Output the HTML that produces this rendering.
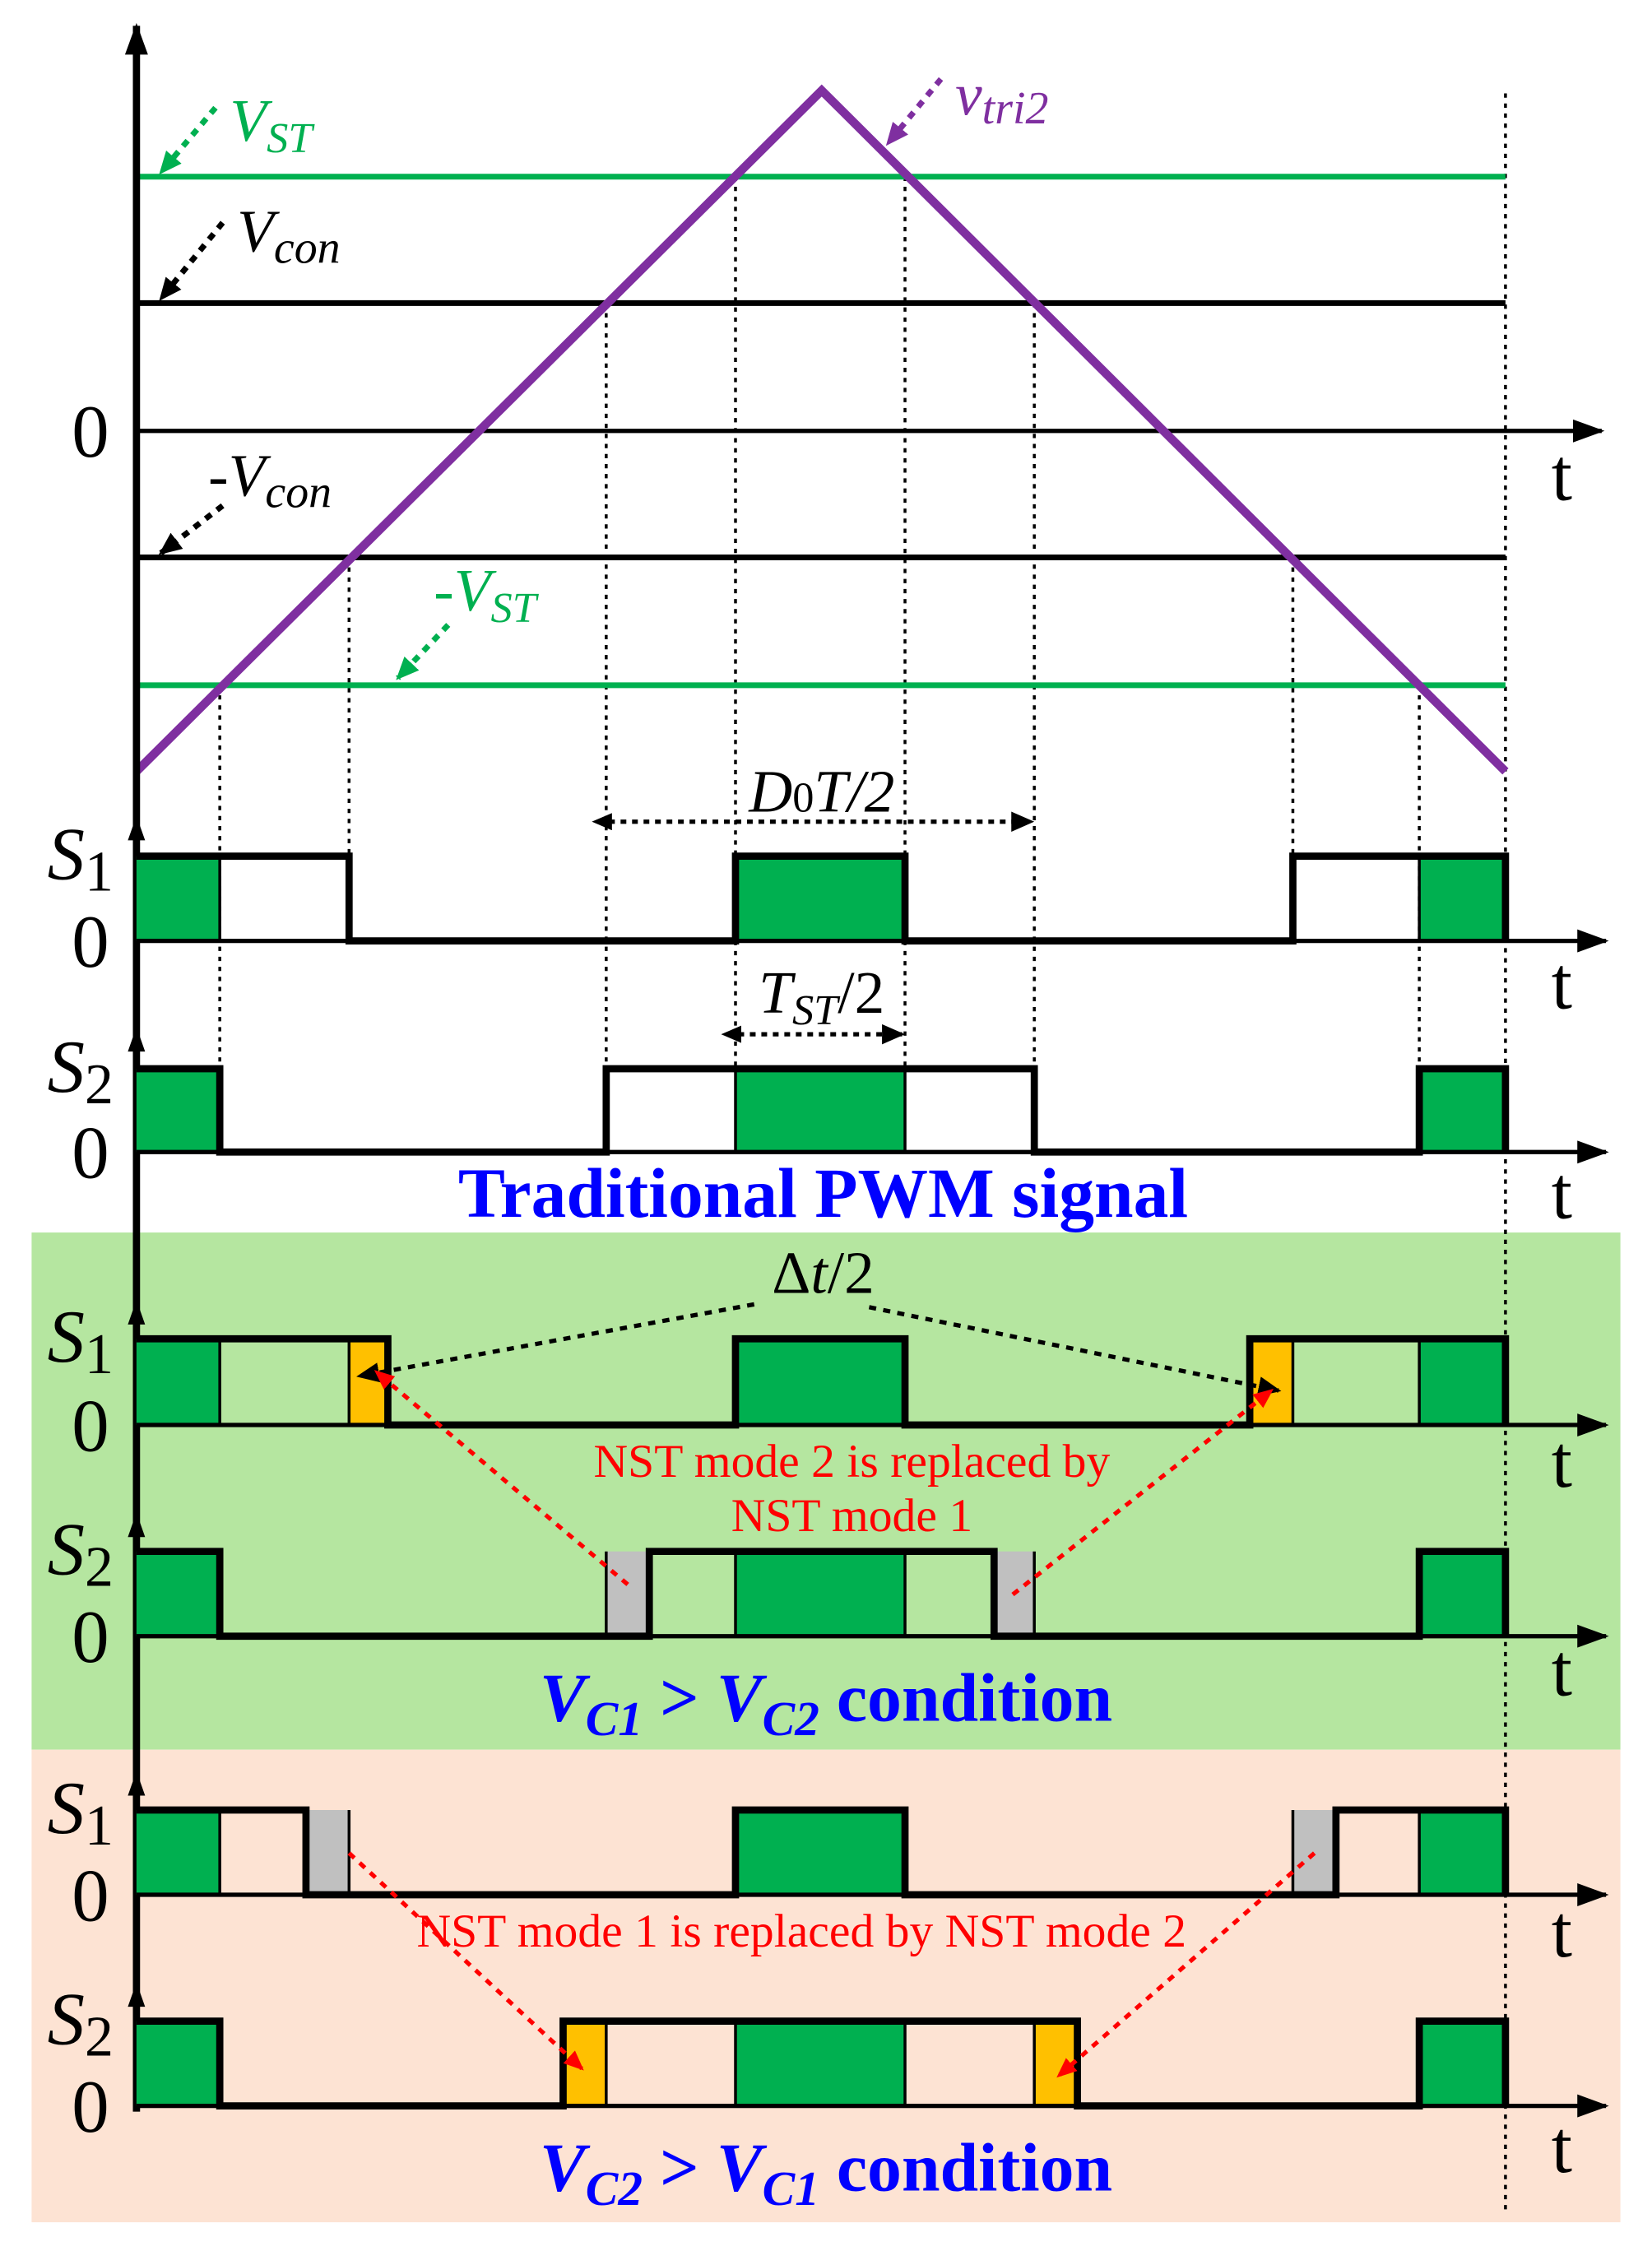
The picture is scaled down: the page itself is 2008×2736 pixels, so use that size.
<!DOCTYPE html>
<html><head><meta charset="utf-8"><style>
html,body{margin:0;padding:0;background:#fff;}
svg{display:block;}
text{font-family:"Liberation Serif",serif;}
</style></head><body>
<svg width="2008" height="2736" viewBox="0 0 1150 1567" preserveAspectRatio="none" xmlns="http://www.w3.org/2000/svg">
<defs>
<marker id="big" markerWidth="22" markerHeight="16" refX="20" refY="8" orient="auto" markerUnits="userSpaceOnUse"><path d="M0,0 L22,8 L0,16 Z" fill="#000"/></marker>
<marker id="ak" markerWidth="16" markerHeight="14" refX="14" refY="7" orient="auto" markerUnits="userSpaceOnUse"><path d="M0,0 L16,7 L0,14 Z" fill="#000"/></marker>
<marker id="ag" markerWidth="16" markerHeight="14" refX="14" refY="7" orient="auto" markerUnits="userSpaceOnUse"><path d="M0,0 L16,7 L0,14 Z" fill="#00b050"/></marker>
<marker id="ap" markerWidth="16" markerHeight="14" refX="14" refY="7" orient="auto" markerUnits="userSpaceOnUse"><path d="M0,0 L16,7 L0,14 Z" fill="#7f2fa0"/></marker>
<marker id="ar" markerWidth="14" markerHeight="12" refX="12" refY="6" orient="auto" markerUnits="userSpaceOnUse"><path d="M0,0 L14,6 L0,12 Z" fill="#ff0000"/></marker>
<marker id="ar0" markerWidth="14" markerHeight="12" refX="2" refY="6" orient="auto-start-reverse" markerUnits="userSpaceOnUse"><path d="M0,0 L14,6 L0,12 Z" fill="#000"/></marker>
</defs>
<rect x="22" y="858" width="1106" height="360" fill="#b5e6a0"/>
<rect x="22" y="1218" width="1106" height="329" fill="#fde3d3"/>

<g stroke="#000" stroke-width="2" stroke-dasharray="3,4">
<line x1="153" y1="477" x2="153" y2="802"/>
<line x1="243" y1="388" x2="243" y2="655"/>
<line x1="422" y1="211" x2="422" y2="802"/>
<line x1="512" y1="123" x2="512" y2="744"/>
<line x1="630" y1="123" x2="630" y2="744"/>
<line x1="720" y1="211" x2="720" y2="802"/>
<line x1="900" y1="388" x2="900" y2="655"/>
<line x1="988" y1="477" x2="988" y2="802"/>
<line x1="1048" y1="65" x2="1048" y2="1540"/>
</g>

<line x1="95" y1="123" x2="1048" y2="123" stroke="#00b050" stroke-width="4"/>
<line x1="95" y1="477" x2="1048" y2="477" stroke="#00b050" stroke-width="4"/>
<line x1="95" y1="211" x2="1048" y2="211" stroke="#000" stroke-width="4"/>
<line x1="95" y1="388" x2="1048" y2="388" stroke="#000" stroke-width="4"/>
<line x1="95" y1="300" x2="1115" y2="300" stroke="#000" stroke-width="3" marker-end="url(#big)"/>
<polyline points="95,537 572,63 1048,537" fill="none" stroke="#7f2fa0" stroke-width="6"/>
<line x1="95" y1="1470" x2="95" y2="18" stroke="#000" stroke-width="5" marker-end="url(#big)"/>

<text x="50" y="318" font-size="52">0</text>
<text x="1080" y="348" font-size="52">t</text>
<line x1="150" y1="75" x2="112" y2="120" stroke="#00b050" stroke-width="4" stroke-dasharray="5,5" marker-end="url(#ag)"/>
<text x="160" y="98" font-size="42" font-style="italic" fill="#00b050">V<tspan font-size="30" dy="8">ST</tspan></text>
<line x1="155" y1="155" x2="112" y2="208" stroke="#000" stroke-width="4" stroke-dasharray="5,5" marker-end="url(#ak)"/>
<text x="165" y="175" font-size="42" font-style="italic">V<tspan font-size="32" dy="8">con</tspan></text>
<line x1="155" y1="352" x2="112" y2="385" stroke="#000" stroke-width="4" stroke-dasharray="5,5" marker-end="url(#ak)"/>
<text x="145" y="345" font-size="42" font-style="italic">-V<tspan font-size="32" dy="8">con</tspan></text>
<line x1="312" y1="435" x2="277" y2="472" stroke="#00b050" stroke-width="4" stroke-dasharray="5,5" marker-end="url(#ag)"/>
<text x="302" y="425" font-size="42" font-style="italic" fill="#00b050">-V<tspan font-size="30" dy="8">ST</tspan></text>
<line x1="655" y1="55" x2="618" y2="100" stroke="#7f2fa0" stroke-width="4" stroke-dasharray="5,5" marker-end="url(#ap)"/>
<text x="665" y="80" font-size="42" font-style="italic" fill="#7f2fa0">v<tspan font-size="32" dy="6">tri2</tspan></text>

<g stroke="#000" stroke-width="5" fill="none">
<rect x="95" y="596" width="58" height="59" fill="#00b050" stroke="none"/>
<rect x="512" y="596" width="118" height="59" fill="#00b050" stroke="none"/>
<rect x="988" y="596" width="60" height="59" fill="#00b050" stroke="none"/>
<polyline points="95,596 243,596 243,655 512,655 512,596 630,596 630,655 900,655 900,596 1048,596 1048,655"/>
<line x1="153" y1="596" x2="153" y2="655" stroke-width="2"/><line x1="988" y1="596" x2="988" y2="655" stroke-width="2"/>
<rect x="95" y="744" width="58" height="58" fill="#00b050" stroke="none"/>
<rect x="512" y="744" width="118" height="58" fill="#00b050" stroke="none"/>
<rect x="988" y="744" width="60" height="58" fill="#00b050" stroke="none"/>
<polyline points="95,744 153,744 153,802 422,802 422,744 720,744 720,802 988,802 988,744 1048,744 1048,802"/>
<line x1="512" y1="744" x2="512" y2="802" stroke-width="2"/><line x1="630" y1="744" x2="630" y2="802" stroke-width="2"/>

<rect x="95" y="932" width="58" height="60" fill="#00b050" stroke="none"/>
<rect x="512" y="932" width="118" height="60" fill="#00b050" stroke="none"/>
<rect x="988" y="932" width="60" height="60" fill="#00b050" stroke="none"/>
<rect x="243" y="932" width="27" height="60" fill="#ffc000" stroke="none"/>
<rect x="870" y="932" width="30" height="60" fill="#ffc000" stroke="none"/>
<polyline points="95,932 270,932 270,992 512,992 512,932 630,932 630,992 870,992 870,932 1048,932 1048,992"/>
<line x1="153" y1="932" x2="153" y2="992" stroke-width="2"/><line x1="243" y1="932" x2="243" y2="992" stroke-width="2"/><line x1="900" y1="932" x2="900" y2="992" stroke-width="2"/><line x1="988" y1="932" x2="988" y2="992" stroke-width="2"/>
<rect x="95" y="1080" width="58" height="59" fill="#00b050" stroke="none"/>
<rect x="512" y="1080" width="118" height="59" fill="#00b050" stroke="none"/>
<rect x="988" y="1080" width="60" height="59" fill="#00b050" stroke="none"/>
<rect x="422" y="1080" width="30" height="59" fill="#c0c0c0" stroke="none"/>
<rect x="692" y="1080" width="28" height="59" fill="#c0c0c0" stroke="none"/>
<polyline points="95,1080 153,1080 153,1139 452,1139 452,1080 692,1080 692,1139 988,1139 988,1080 1048,1080 1048,1139"/>
<line x1="512" y1="1080" x2="512" y2="1139" stroke-width="2"/><line x1="630" y1="1080" x2="630" y2="1139" stroke-width="2"/><line x1="422" y1="1080" x2="422" y2="1139" stroke-width="2"/><line x1="720" y1="1080" x2="720" y2="1139" stroke-width="2"/>

<rect x="95" y="1260" width="58" height="59" fill="#00b050" stroke="none"/>
<rect x="512" y="1260" width="118" height="59" fill="#00b050" stroke="none"/>
<rect x="988" y="1260" width="60" height="59" fill="#00b050" stroke="none"/>
<rect x="213" y="1260" width="30" height="59" fill="#c0c0c0" stroke="none"/>
<rect x="900" y="1260" width="30" height="59" fill="#c0c0c0" stroke="none"/>
<polyline points="95,1260 213,1260 213,1319 512,1319 512,1260 630,1260 630,1319 930,1319 930,1260 1048,1260 1048,1319"/>
<line x1="153" y1="1260" x2="153" y2="1319" stroke-width="2"/><line x1="243" y1="1260" x2="243" y2="1319" stroke-width="2"/><line x1="900" y1="1260" x2="900" y2="1319" stroke-width="2"/><line x1="988" y1="1260" x2="988" y2="1319" stroke-width="2"/>
<rect x="95" y="1407" width="58" height="59" fill="#00b050" stroke="none"/>
<rect x="512" y="1407" width="118" height="59" fill="#00b050" stroke="none"/>
<rect x="988" y="1407" width="60" height="59" fill="#00b050" stroke="none"/>
<rect x="392" y="1407" width="30" height="59" fill="#ffc000" stroke="none"/>
<rect x="720" y="1407" width="30" height="59" fill="#ffc000" stroke="none"/>
<polyline points="95,1407 153,1407 153,1466 392,1466 392,1407 750,1407 750,1466 988,1466 988,1407 1048,1407 1048,1466"/>
<line x1="512" y1="1407" x2="512" y2="1466" stroke-width="2"/><line x1="630" y1="1407" x2="630" y2="1466" stroke-width="2"/><line x1="422" y1="1407" x2="422" y2="1466" stroke-width="2"/><line x1="720" y1="1407" x2="720" y2="1466" stroke-width="2"/>
</g>

<g stroke="#000" stroke-width="3">
<line x1="95" y1="655" x2="1118" y2="655" marker-end="url(#big)"/>
<line x1="95" y1="802" x2="1118" y2="802" marker-end="url(#big)"/>
<line x1="95" y1="992" x2="1118" y2="992" marker-end="url(#big)"/>
<line x1="95" y1="1139" x2="1118" y2="1139" marker-end="url(#big)"/>
<line x1="95" y1="1319" x2="1118" y2="1319" marker-end="url(#big)"/>
<line x1="95" y1="1466" x2="1118" y2="1466" marker-end="url(#big)"/>
</g>
<g fill="#000">
<path d="M89,585 L95,568 L101,585Z"/><path d="M89,732 L95,715 L101,732Z"/><path d="M89,922 L95,905 L101,922Z"/><path d="M89,1070 L95,1053 L101,1070Z"/><path d="M89,1250 L95,1233 L101,1250Z"/><path d="M89,1397 L95,1380 L101,1397Z"/>
</g>

<g font-size="52">
<text x="33" y="612" font-style="italic">S<tspan font-style="normal" font-size="40" dy="8">1</tspan></text><text x="50" y="673">0</text><text x="1080" y="702">t</text>
<text x="33" y="760" font-style="italic">S<tspan font-style="normal" font-size="40" dy="8">2</tspan></text><text x="50" y="820">0</text><text x="1080" y="848">t</text>
<text x="33" y="948" font-style="italic">S<tspan font-style="normal" font-size="40" dy="8">1</tspan></text><text x="50" y="1010">0</text><text x="1080" y="1035">t</text>
<text x="33" y="1096" font-style="italic">S<tspan font-style="normal" font-size="40" dy="8">2</tspan></text><text x="50" y="1157">0</text><text x="1080" y="1180">t</text>
<text x="33" y="1276" font-style="italic">S<tspan font-style="normal" font-size="40" dy="8">1</tspan></text><text x="50" y="1337">0</text><text x="1080" y="1362">t</text>
<text x="33" y="1423" font-style="italic">S<tspan font-style="normal" font-size="40" dy="8">2</tspan></text><text x="50" y="1484">0</text><text x="1080" y="1512">t</text>
</g>

<line x1="424" y1="572" x2="718" y2="572" stroke="#000" stroke-width="3" stroke-dasharray="4,4" marker-start="url(#ar0)" marker-end="url(#ak)"/>
<text x="572" y="565" font-size="42" text-anchor="middle" font-style="italic">D<tspan font-style="normal" font-size="30">0</tspan>T/2</text>
<line x1="514" y1="720" x2="628" y2="720" stroke="#000" stroke-width="3" stroke-dasharray="4,4" marker-start="url(#ar0)" marker-end="url(#ak)"/>
<text x="572" y="705" font-size="42" text-anchor="middle" font-style="italic">T<tspan font-size="30" dy="8">ST</tspan><tspan dy="-8" font-style="normal">/2</tspan></text>
<text x="573" y="847" font-size="49" font-weight="bold" fill="#0000ff" text-anchor="middle">Traditional PWM signal</text>

<text x="573" y="900" font-size="42" text-anchor="middle">Δ<tspan font-style="italic">t</tspan>/2</text>
<line x1="525" y1="908" x2="250" y2="958" stroke="#000" stroke-width="3" stroke-dasharray="5,5" marker-end="url(#ak)"/>
<line x1="605" y1="910" x2="890" y2="968" stroke="#000" stroke-width="3" stroke-dasharray="5,5" marker-end="url(#ak)"/>
<text x="593" y="1028" font-size="33" fill="#ff0000" text-anchor="middle">NST mode 2 is replaced by</text>
<text x="593" y="1066" font-size="33" fill="#ff0000" text-anchor="middle">NST mode 1</text>
<line x1="437" y1="1103" x2="262" y2="955" stroke="#ff0000" stroke-width="3" stroke-dasharray="5,5" marker-end="url(#ar)"/>
<line x1="705" y1="1110" x2="885" y2="968" stroke="#ff0000" stroke-width="3" stroke-dasharray="5,5" marker-end="url(#ar)"/>
<text x="575" y="1198" font-size="48" font-weight="bold" fill="#0000ff" text-anchor="middle"><tspan font-style="italic">V<tspan font-size="34" dy="10">C1</tspan></tspan><tspan dy="-10"> &gt; </tspan><tspan font-style="italic">V<tspan font-size="34" dy="10">C2</tspan></tspan><tspan dy="-10"> condition</tspan></text>

<text x="558" y="1355" font-size="33" fill="#ff0000" text-anchor="middle">NST mode 1 is replaced by NST mode 2</text>
<line x1="243" y1="1290" x2="405" y2="1440" stroke="#ff0000" stroke-width="3" stroke-dasharray="5,5" marker-end="url(#ar)"/>
<line x1="915" y1="1290" x2="737" y2="1445" stroke="#ff0000" stroke-width="3" stroke-dasharray="5,5" marker-end="url(#ar)"/>
<text x="575" y="1525" font-size="48" font-weight="bold" fill="#0000ff" text-anchor="middle"><tspan font-style="italic">V<tspan font-size="34" dy="10">C2</tspan></tspan><tspan dy="-10"> &gt; </tspan><tspan font-style="italic">V<tspan font-size="34" dy="10">C1</tspan></tspan><tspan dy="-10"> condition</tspan></text>
</svg>
</body></html>
